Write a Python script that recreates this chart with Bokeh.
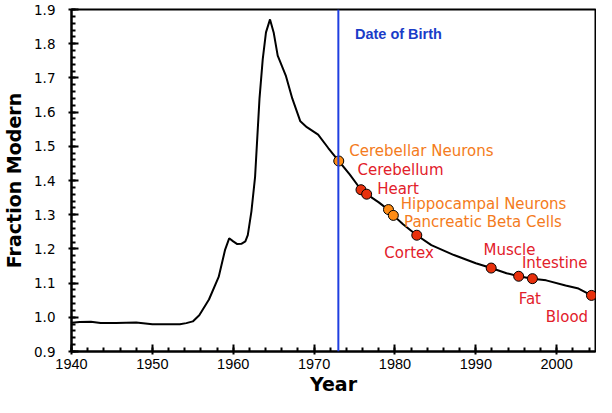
from bokeh.plotting import figure
from bokeh.models import Span, FixedTicker, Range1d, ColumnDataSource
from bokeh.core.properties import value
from bokeh.embed import file_html
from bokeh.resources import INLINE

# Curve (bomb-pulse atmospheric 14C)
curve_year = [1940.0, 1941.0, 1942.4, 1943.6, 1945.5, 1948.0, 1950.0, 1952.0, 1953.4, 1954.2,
              1955.0, 1955.8, 1957.0, 1958.2, 1959.0, 1959.5, 1960.0, 1960.5, 1961.0, 1961.5,
              1961.8, 1962.25, 1962.7, 1963.25, 1963.65, 1964.05, 1964.55, 1965.0, 1965.5, 1966.5,
              1967.3, 1968.3, 1969.1, 1970.5, 1971.75, 1973.05, 1974.4, 1975.8, 1976.5, 1978.0,
              1979.2, 1979.8, 1981.0, 1982.7, 1984.5, 1987.3, 1990.0, 1991.9, 1993.8, 1995.3,
              1997.0, 1998.7, 2001.1, 2002.7, 2004.3, 2004.8]
curve_value = [0.984, 0.986, 0.987, 0.983, 0.983, 0.985, 0.980, 0.980, 0.980, 0.983,
               0.988, 1.006, 1.052, 1.118, 1.198, 1.231, 1.222, 1.214, 1.215, 1.222,
               1.240, 1.310, 1.410, 1.640, 1.755, 1.833, 1.871, 1.833, 1.765, 1.707,
               1.640, 1.573, 1.556, 1.534, 1.495, 1.457, 1.418, 1.373, 1.360, 1.336,
               1.314, 1.298, 1.272, 1.240, 1.211, 1.182, 1.158, 1.144, 1.129, 1.120,
               1.113, 1.108, 1.093, 1.084, 1.064, 1.062]

# Tissues
tissue_names = ["Cerebellar Neurons", "Cerebellum", "Heart", "Hippocampal Neurons",
                "Pancreatic Beta Cells", "Cortex", "Muscle", "Fat", "Intestine", "Blood"]
tissue_year = [1973.05, 1975.8, 1976.5, 1979.2, 1979.8, 1982.7, 1991.9, 1995.3, 1997.0, 2004.3]
tissue_value = [1.457, 1.373, 1.360, 1.315, 1.298, 1.240, 1.144, 1.120, 1.113, 1.064]
tissue_group = ["cell", "tissue", "tissue", "cell", "cell", "tissue", "tissue", "tissue", "tissue", "tissue"]
label_year = [1974.35, 1975.37, 1977.8, 1980.72, 1981.12, 1978.69, 1990.96, 1995.3, 1995.7, 1998.65]
label_value = [1.487, 1.432, 1.374, 1.331, 1.280, 1.187, 1.198, 1.054, 1.158, 1.001]

birth_year = 1973.0
x_ticks = [1940, 1950, 1960, 1970, 1980, 1990, 2000]
y_ticks = [0.9, 1.0, 1.1, 1.2, 1.3, 1.4, 1.5, 1.6, 1.7, 1.8, 1.9]

marker_fill = {"cell": "#FF8C14", "tissue": "#E8300C"}
text_col = {"cell": "#F47B20", "tissue": "#E2202A"}

p = figure(width=596, height=397, output_backend="svg", toolbar_location=None,
           x_range=Range1d(1940, 2004.8), y_range=Range1d(0.9, 1.9),
           min_border_left=62, min_border_right=1, min_border_top=9, min_border_bottom=46)
p.xgrid.visible = False
p.ygrid.visible = False
p.outline_line_color = "black"
p.outline_line_width = 2
p.background_fill_color = "white"
p.border_fill_color = "white"

p.add_layout(Span(location=birth_year, dimension="height", line_color="#1F3FE0", line_width=2))

p.line(curve_year, curve_value, line_color="black", line_width=2)

src = ColumnDataSource(dict(
    x=tissue_year, y=tissue_value,
    fill=[marker_fill[g] for g in tissue_group],
    lx=label_year, ly=label_value, name=tissue_names,
    tc=[text_col[g] for g in tissue_group]))
p.scatter("x", "y", source=src, size=10, fill_color="fill", line_color="black", line_width=1)
p.text("lx", "ly", text="name", source=src, text_color="tc", text_align="left",
       text_baseline="middle", text_font=value("DejaVu Sans"), text_font_size="15px")

p.text([1975.05], [1.828], text=["Date of Birth"], text_color="#1A3CC8", text_align="left",
       text_baseline="middle", text_font=value("Liberation Sans"), text_font_size="14.5px",
       text_font_style="bold")

for ax in (p.xaxis[0], p.yaxis[0]):
    ax.axis_line_width = 2
    ax.axis_line_color = "black"
    ax.major_tick_line_width = 2
    ax.minor_tick_line_width = 2
    ax.major_tick_in = 7
    ax.major_tick_out = 3
    ax.minor_tick_in = 4
    ax.minor_tick_out = 0
    ax.major_label_text_color = "black"
    ax.axis_label_text_color = "black"
    ax.axis_label_text_font = "DejaVu Sans"
    ax.axis_label_text_font_style = "bold"
    ax.axis_label_text_font_size = "19px"

p.xaxis.ticker = FixedTicker(ticks=x_ticks, minor_ticks=list(range(1940, 2005, 2)))
p.yaxis.ticker = FixedTicker(ticks=y_ticks, minor_ticks=[round(0.9 + 0.02 * i, 2) for i in range(51)])
p.yaxis.major_label_overrides = {t: f"{t:.1f}" for t in y_ticks}
p.xaxis.major_label_text_font = "Liberation Sans"
p.xaxis.major_label_text_font_size = "14.5px"
p.yaxis.major_label_text_font = "DejaVu Sans"
p.yaxis.major_label_text_font_size = "13.5px"
p.xaxis.major_label_standoff = 4
p.yaxis.major_label_standoff = 13
p.xaxis.axis_label = "Year"
p.yaxis.axis_label = "Fraction Modern"
p.xaxis.axis_label_standoff = 1
p.yaxis.axis_label_standoff = 6

open("out.html", "w").write(file_html(p, INLINE))
